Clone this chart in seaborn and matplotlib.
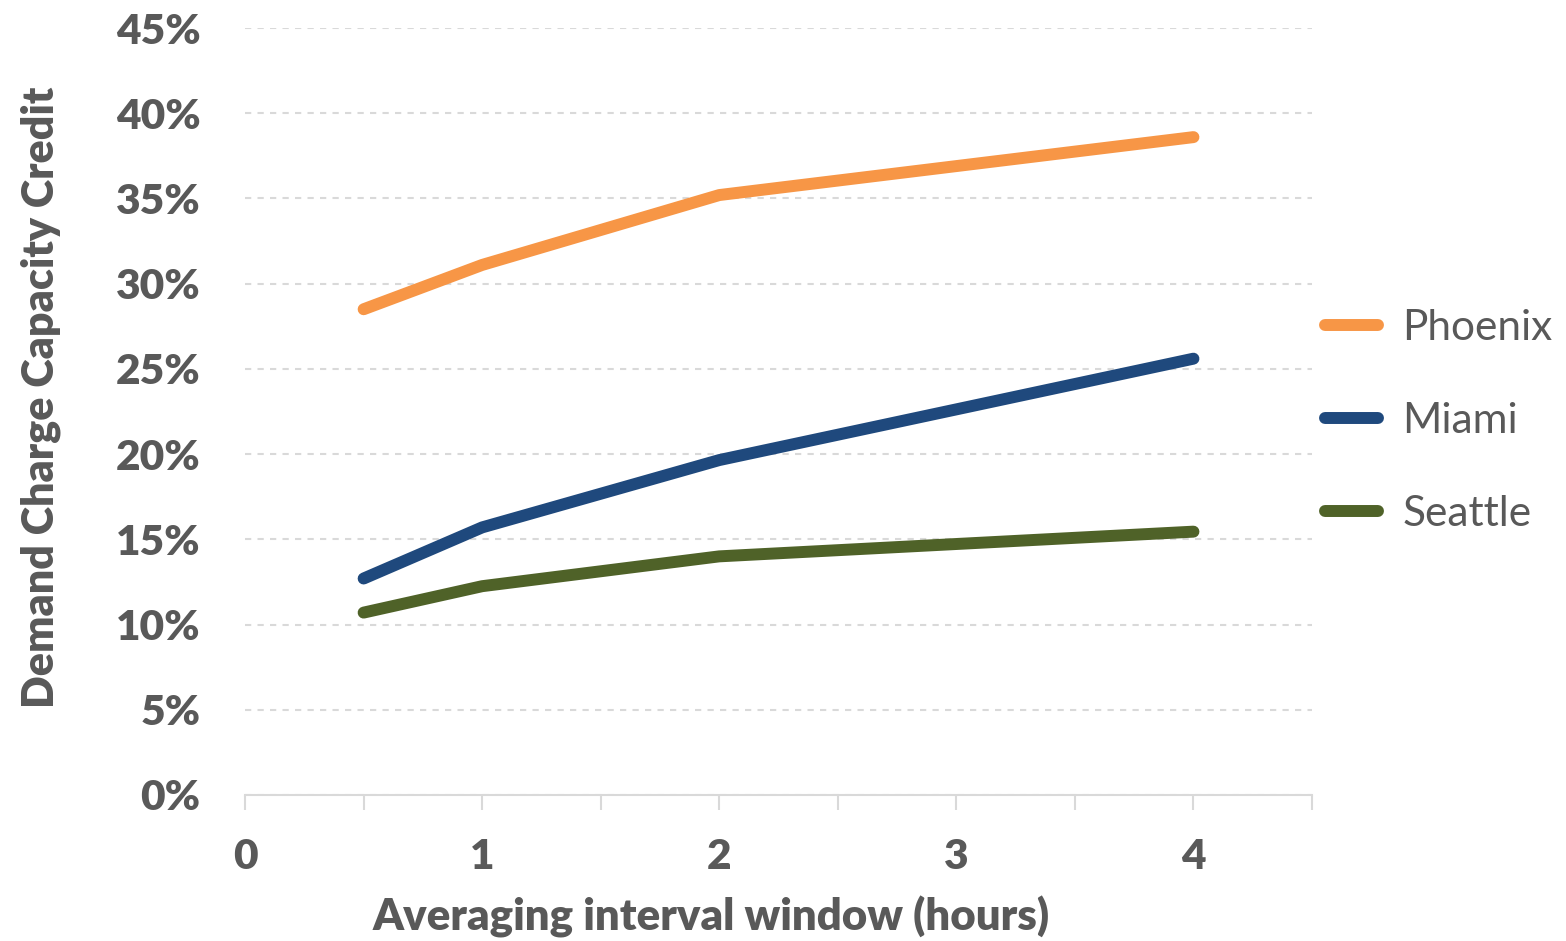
import matplotlib
matplotlib.use('Agg')
import matplotlib.pyplot as plt
import seaborn as sns
import pandas as pd
from matplotlib.ticker import FuncFormatter, MultipleLocator

# data
hours = [0.5, 1, 2, 4]
phoenix = [28.5, 31.1, 35.2, 38.6]
miami = [12.7, 15.7, 19.65, 25.6]
seattle = [10.7, 12.25, 14.0, 15.45]
cities = ['Phoenix', 'Miami', 'Seattle']
colors = ['#F79646', '#1F497D', '#4F6228']

df = pd.DataFrame({
    'hours': hours * 3,
    'credit': phoenix + miami + seattle,
    'city': [c for c in cities for _ in hours],
})

sns.set_style('white')
plt.rcParams['font.family'] = ['Lato', 'DejaVu Sans']
text_color = '#595959'

fig = plt.figure(figsize=(15.66, 9.41), dpi=100)
ax = fig.add_axes([0.1565, 0.1552, 0.6813, 0.815])

sns.lineplot(data=df, x='hours', y='credit', hue='city', hue_order=cities,
             palette=colors, linewidth=8.6, solid_capstyle='round', ax=ax)

ax.set_xlim(0, 4.5)
ax.set_ylim(0, 45)
ax.xaxis.set_major_locator(MultipleLocator(1))
ax.xaxis.set_minor_locator(MultipleLocator(0.5))
ax.yaxis.set_major_locator(MultipleLocator(5))
ax.yaxis.set_major_formatter(FuncFormatter(lambda v, p: f'{v:.0f}%'))

ax.grid(axis='y', color='#D9D9D9', linestyle=(0, (3, 3)), linewidth=1.5)
ax.set_axisbelow(True)
for s in ['top', 'right', 'left']:
    ax.spines[s].set_visible(False)
ax.spines['bottom'].set_color('#D9D9D9')
ax.spines['bottom'].set_linewidth(1.5)

ax.tick_params(axis='x', which='both', bottom=True, direction='out', length=11,
               width=1.5, color='#D9D9D9', pad=20)
ax.tick_params(axis='y', length=0, pad=32)
for lab in ax.get_xticklabels() + ax.get_yticklabels():
    lab.set_fontsize(30.5)
    lab.set_fontweight('heavy')
    lab.set_color(text_color)

ax.set_xlabel('Averaging interval window (hours)', fontsize=31.5, fontweight='heavy',
              color=text_color)
ax.xaxis.set_label_coords(0.437, -0.131)
ax.set_ylabel('Demand Charge Capacity Credit', fontsize=31, fontweight='heavy',
              color=text_color)
ax.yaxis.set_label_coords(-0.173, 0.519)

leg = ax.legend(loc='center left', bbox_to_anchor=(1.012, 0.488), frameon=False,
                fontsize=30.5, handlelength=1.25, handletextpad=0.58,
                labelspacing=1.3, borderpad=0, borderaxespad=0,
                labelcolor=text_color)
for h in leg.get_lines():
    h.set_linewidth(8.6)
    h.set_solid_capstyle('round')

fig.savefig('out.png', dpi=100)
plt.close()
